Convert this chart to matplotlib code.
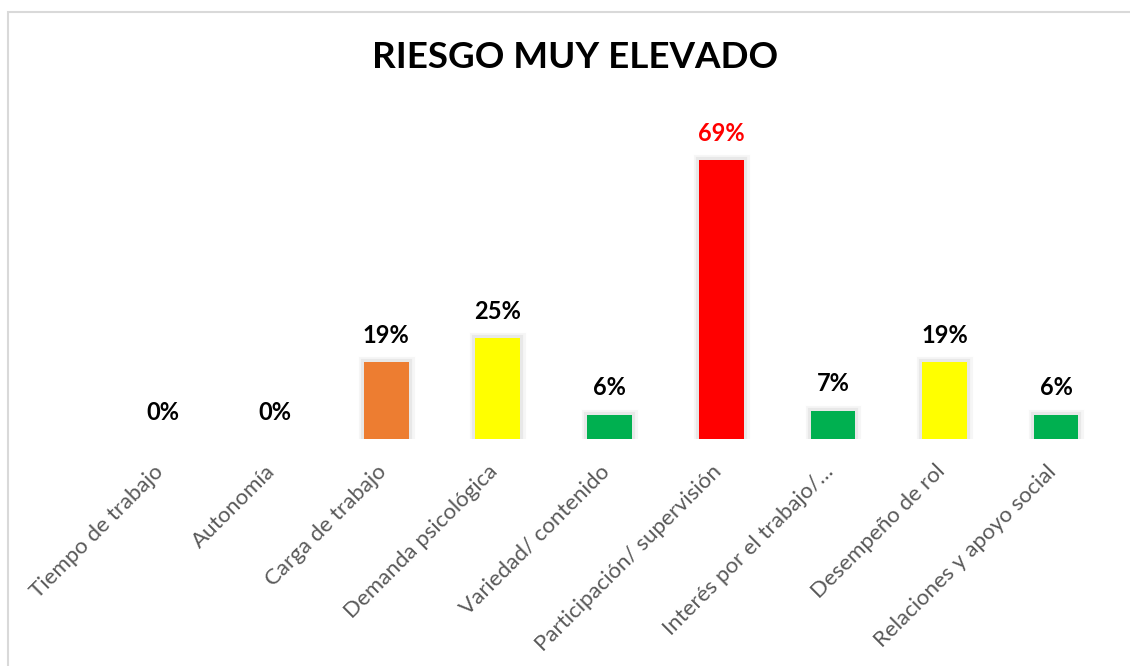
import matplotlib
matplotlib.use("Agg")
import matplotlib.pyplot as plt
import matplotlib.patheffects as pe
from matplotlib.patches import Rectangle
from matplotlib.transforms import ScaledTranslation

categories = ["Tiempo de trabajo", "Autonomía", "Carga de trabajo", "Demanda psicológica",
              "Variedad/ contenido", "Participación/ supervisión", "Interés por el trabajo/…",
              "Desempeño de rol", "Relaciones y apoyo social"]
values = [0, 0, 19, 25, 6, 69, 7, 19, 6]
colors = ["#00B050", "#00B050", "#ED7D31", "#FFFF00", "#00B050", "#FF0000",
          "#00B050", "#FFFF00", "#00B050"]
label_colors = ["black"] * 5 + ["#FF0000"] + ["black"] * 3
title = "RIESGO MUY ELEVADO"

plt.rcParams['font.family'] = ['Lato', 'DejaVu Sans']

W, H = 1130, 666
fig = plt.figure(figsize=(W / 100, H / 100), dpi=100)
fig.patch.set_facecolor("white")

# outer border
fig.add_artist(Rectangle((8 / W, -0.1), 1.2, (H - 12) / H + 0.1, transform=fig.transFigure,
                         fill=False, edgecolor="#d9d9d9", linewidth=1.5))

left, right = 107 / W, 1112 / W
bottom = (H - 439) / H
top = (H - 115.6) / H
ax = fig.add_axes([left, bottom, right - left, top - bottom])
x = list(range(len(categories)))
bars = ax.bar(x, values, width=0.4, color=colors, zorder=3)
for b, v in zip(bars, values):
    if v > 0:
        b.set_path_effects([
            pe.Stroke(linewidth=8, foreground="#f6f6f6"),
            pe.Stroke(linewidth=4.5, foreground="#e8e8e8"),
            pe.Normal(),
        ])
    else:
        b.set_visible(False)
ax.set_xlim(-0.5, len(categories) - 0.5)
ax.set_ylim(0, 80)
for s in ax.spines.values():
    s.set_visible(False)
ax.set_yticks([])
ax.set_xticks(x)
ax.set_xticklabels(categories, rotation=45, ha="right", rotation_mode="anchor",
                   fontsize=16, color="#595959")
ax.tick_params(axis="x", length=0, pad=16)
shift = ScaledTranslation(-10 / 100, 0, fig.dpi_scale_trans)
for lab in ax.get_xticklabels():
    lab.set_transform(lab.get_transform() + shift)

for xi, v, c in zip(x, values, label_colors):
    ax.annotate(f"{v}%", (xi, v), xytext=(0, 11), textcoords="offset points",
                ha="center", va="bottom", fontsize=17, fontweight="bold", color=c)

fig.text(575 / W, (H - 57) / H, title, ha="center", va="center",
         fontsize=26.5, fontweight="bold", color="black")

fig.savefig("out.png", dpi=100, facecolor="white")
